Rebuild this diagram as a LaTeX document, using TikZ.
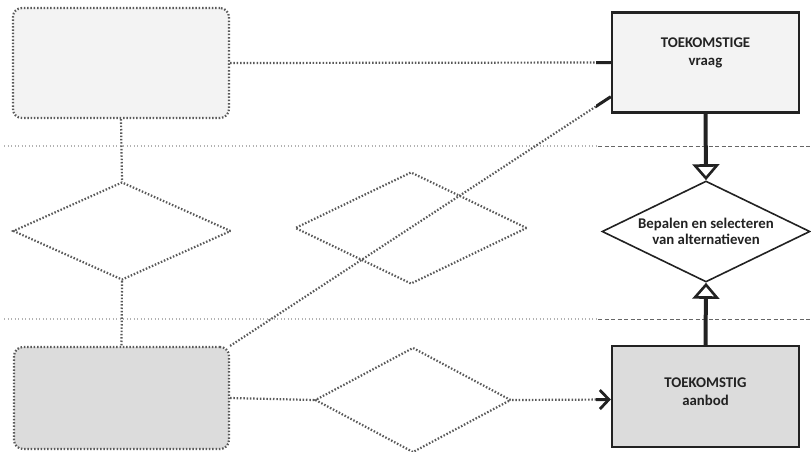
\documentclass[tikz,border=0pt]{standalone}
\usepackage{fontspec}
\setmainfont{Carlito}
\usetikzlibrary{shapes.geometric,arrows.meta}
\definecolor{lightfill}{HTML}{F3F3F3}
\definecolor{darkfill}{HTML}{DCDCDC}
\definecolor{ink}{HTML}{222222}
\begin{document}
\begin{tikzpicture}[x=1pt,y=-1pt,
  box/.style={draw=ink, line width=2.4pt, inner sep=0pt, align=center,
    font=\bfseries\fontsize{14.8}{18}\selectfont, text=ink},
  dia/.style={diamond, aspect=2, draw=ink, line width=1.6pt, inner sep=0pt, align=center,
    font=\bfseries\fontsize{14.8}{16.5}\selectfont, text=ink, fill=white},
  conn/.style={draw=ink, line width=3pt},
  vconn/.style={draw=ink, line width=4pt},
  noisy/.style={draw=black!65, line width=2.2pt, dash pattern=on 1.5pt off 1.8pt},
  noisybox/.style={noisy, rounded corners=9pt, inner sep=0pt},
  noisydia/.style={diamond, aspect=2, noisy, inner sep=0pt},
  noisyline/.style={draw=black!30, line width=1.6pt, dash pattern=on 1pt off 2.5pt},
  sep/.style={draw=black!60, line width=0.8pt, dash pattern=on 4pt off 2.5pt},
  opentri/.style={-{Triangle[open, length=16pt, width=27pt, line width=2.6pt]}},
  chev/.style={-{Straight Barb[length=9pt, width=19pt, line width=2.8pt]}}
]
\useasboundingbox (0,0) rectangle (811,452);

% separators
\draw[noisyline] (4,146) -- (598,146);
\draw[noisyline] (4,319) -- (598,319);
\draw[sep] (598,146) -- (811,146);
\draw[sep] (598,319) -- (811,319);

% obscured left shapes
\node[noisybox, fill=lightfill, minimum width=216pt, minimum height=110pt] (ltop) at (121,63) {};
\node[noisybox, fill=darkfill, minimum width=215pt, minimum height=102pt] (lbot) at (121.5,398) {};
\node[noisydia, minimum width=218pt, minimum height=98pt] (dleft) at (122,231) {};
\node[noisydia, minimum width=232pt, minimum height=112pt] (dmid) at (411,228) {};
\node[noisydia, minimum width=196pt, minimum height=105pt] (dlow) at (413,400) {};

% clear right shapes
\node[box, fill=lightfill, minimum width=187pt, minimum height=100pt, text depth=22pt] (vraag) at (705.5,62.5) {TOEKOMSTIGE\\vraag};
\node[dia, minimum width=208pt, minimum height=101pt] (keuze) at (706,231.5) {Bepalen en selecteren\\van alternatieven};
\node[box, fill=darkfill, minimum width=187pt, minimum height=101pt, text depth=9pt] (aanbod) at (705.5,396.5) {TOEKOMSTIG\\aanbod};

% obscured connectors
\draw[noisy] (ltop.east) -- (vraag.west);
\draw[noisy] (lbot.north east) -- ([yshift=17pt]vraag.south west);
\draw[noisy] (ltop.south) -- (dleft.north);
\draw[noisy] (dleft.south) -- (lbot.north);
\draw[noisy] (lbot.east) -- (dlow.west);
\draw[noisy] (dlow.east) -- ([yshift=-3pt]aanbod.west);

% visible parts of connectors
\begin{scope}
  \clip (596,0) rectangle (811,452);
  \draw[conn] (ltop.east) -- (vraag.west);
  \draw[conn] (lbot.north east) -- ([yshift=17pt]vraag.south west);
  \draw[conn, chev] (dlow.east) -- ([yshift=-3pt]aanbod.west);
\end{scope}

% clear connectors
\draw[vconn, opentri] (vraag.south) -- (keuze.north);
\draw[vconn, opentri] (aanbod.north) -- (keuze.south);
\end{tikzpicture}
\end{document}
